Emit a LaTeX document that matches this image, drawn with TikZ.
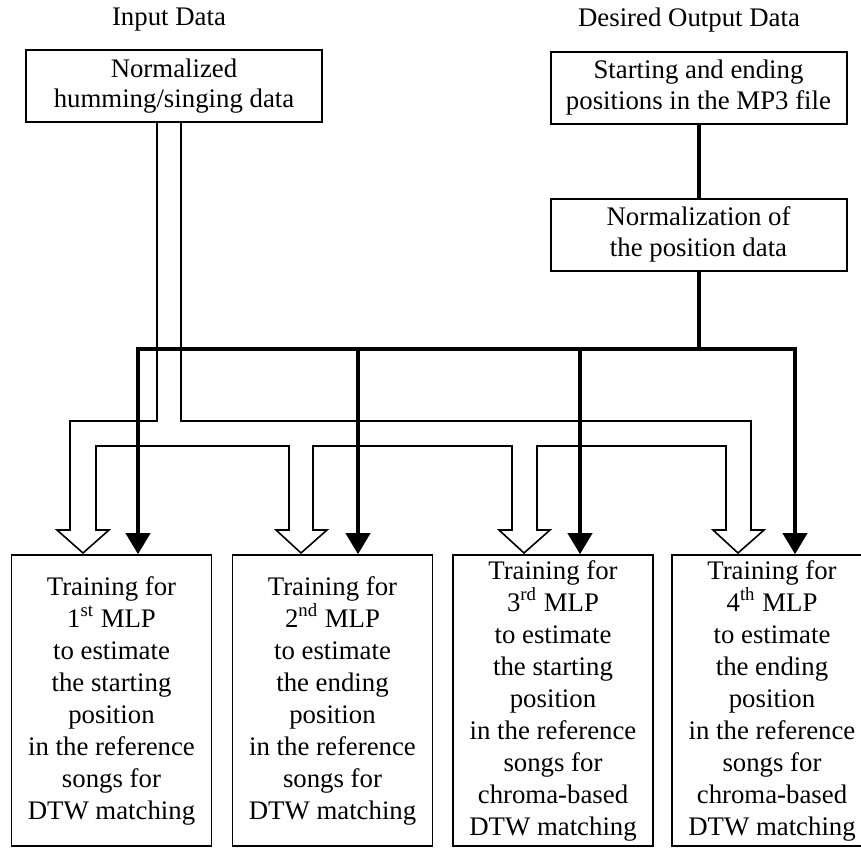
\documentclass[tikz,border=0pt]{standalone}
\usepackage{fontspec}
\setmainfont{Liberation Serif}
\usetikzlibrary{arrows.meta,calc,positioning}
\tikzset{
  font=\fontsize{13.4pt}{16pt}\selectfont,
  title/.style={align=center,inner sep=0pt},
  databox/.style={rectangle,draw=black,line width=1pt,align=center,inner sep=0pt,
    minimum width=148pt,minimum height=36pt,font=\fontsize{13.4pt}{15.2pt}\selectfont},
  mlpbox/.style={rectangle,draw=black,line width=0.8pt,align=center,inner sep=0pt,
    minimum width=100pt,minimum height=145.5pt},
  thickline/.style={draw=black,line width=2pt},
  thickarrow/.style={thickline,-{Triangle[length=10.5pt,width=12pt]}},
  hollow/.style={draw=black,line width=0.8pt,line join=miter},
}

\begin{document}
\begin{tikzpicture}[x=0.5pt,y=-0.5pt]

\useasboundingbox (0,0) rectangle (861,847);
\clip (0,0) rectangle (861,847);

\node[title] (inlbl) at (169,20) {Input Data};
\node[title] (outlbl) at (689,20) {Desired Output Data};

\node[databox] (hum) at (174,86) {Normalized\\humming/singing data};
\node[databox] (pos) at (698.5,87.5) {Starting and ending\\positions in the MP3 file};
\node[databox] (norm) at (698.5,234.5) {Normalization of\\the position data};

\node[mlpbox] (mlp1) at (111.5,700.5) {Training for\\1\textsuperscript{st} MLP\\to estimate\\the starting\\position\\in the reference\\songs for\\DTW matching};
\node[mlpbox] (mlp2) at (332.5,700.5) {Training for\\2\textsuperscript{nd} MLP\\to estimate\\the ending\\position\\in the reference\\songs for\\DTW matching};
\node[mlpbox] (mlp3) at (553,700.5) {Training for\\3\textsuperscript{rd} MLP\\to estimate\\the starting\\position\\in the reference\\songs for\\chroma-based\\DTW matching};
\node[mlpbox] (mlp4) at (772,700.5) {Training for\\4\textsuperscript{th} MLP\\to estimate\\the ending\\position\\in the reference\\songs for\\chroma-based\\DTW matching};

% hollow arrow: input data to the four MLPs
\draw[hollow] (hum.south -| 157,0) |- (70,421) -- (70,530) -- (57,530) -- (83,553) -- (109,530) -- (96,530)
  |- (289,446) -- (289,530) -- (276,530) -- (301,553) -- (327,530) -- (313,530)
  |- (512,446) -- (512,530) -- (499,530) -- (524,553) -- (550,530) -- (537,530)
  |- (726,446) -- (726,530) -- (713,530) -- (738,553) -- (764,530) -- (751,530)
  |- (181,421) -- (hum.south -| 181,0);

% desired output branch
\coordinate (bus) at ($(norm.south)+(0,77)$);
\draw[thickline] (pos.south) -- (norm.north);
\draw[thickline] (norm.south) -- (bus);
\foreach \n/\dx in {1/26.5,2/25.5,3/27,4/23}{
  \draw[thickarrow] (bus) -| ($(mlp\n.north)+(\dx,0)$);
}

\end{tikzpicture}
\end{document}
